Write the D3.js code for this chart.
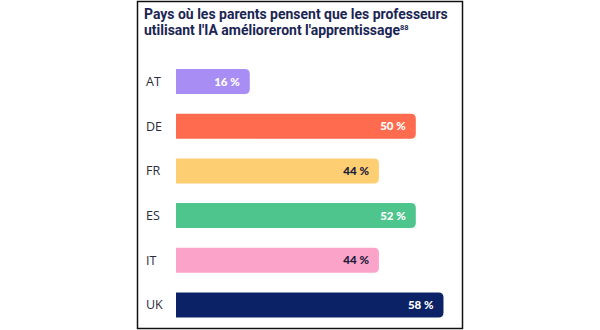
<!DOCTYPE html>
<html><head><meta charset="utf-8">
<script src="https://cdn.jsdelivr.net/npm/d3@7"></script>
<style>html,body{margin:0;padding:0;background:#fff;}svg{display:block;}</style>
</head><body>
<svg id="chart" width="600" height="330"></svg>
<script>
const countries = ["AT","DE","FR","ES","IT","UK"];
const barValues = [16, 52, 44, 52, 44, 58];
const valueLabels = ["16 %","50 %","44 %","52 %","44 %","58 %"];
const colors = ["#a88df5","#ff6b4e","#fdcf72","#4fc58e","#fba3c8","#0c2266"];
const labelColors = ["#ffffff","#ffffff","#1a1a3a","#ffffff","#1a1a3a","#ffffff"];
const titleLines = ["Pays où les parents pensent que les professeurs","utilisant l'IA amélioreront l'apprentissage"];
const footnote = "88";

const svg = d3.select("#chart");
svg.append("rect").attr("x",137.5).attr("y",1.5).attr("width",325).attr("height",327)
  .attr("fill","#fff").attr("stroke","#111").attr("stroke-width",1.5);

const x = d3.scaleLinear().domain([0,60]).range([176, 452.7]);
const y = d3.scalePoint().domain(countries).range([81.5, 305]);
const bh = 25, r = 5;

const title = svg.append("g").attr("font-family","Roboto, sans-serif").attr("font-weight",700)
  .attr("fill","#1b2553").attr("font-size",14);
const t1 = title.append("text").attr("x",144).attr("y",18.5).text(titleLines[0]);
const t2 = title.append("text").attr("x",144).attr("y",35);
t2.append("tspan").text(titleLines[1]);
t2.append("tspan").attr("font-size",7.5).attr("dy",-5.5).text(footnote);
const w1 = t1.node().getComputedTextLength();
if (w1 > 304) {
  const f = 304 / w1;
  title.attr("font-size", 14*f);
  t2.select("tspan:last-child").attr("font-size", 7.5*f);
}

const data = countries.map((c,i)=>({c, v:barValues[i], lab:valueLabels[i], col:colors[i], lc:labelColors[i]}));

function barPath(x0, x1, yc){
  const y0 = yc - bh/2, y1 = yc + bh/2;
  return `M${x0},${y0}H${x1-r}Q${x1},${y0} ${x1},${y0+r}V${y1-r}Q${x1},${y1} ${x1-r},${y1}H${x0}Z`;
}

const g = svg.append("g");
g.selectAll("path.bar").data(data).join("path").attr("class","bar")
  .attr("d", d=>barPath(x(0), x(d.v), y(d.c))).attr("fill", d=>d.col);

g.selectAll("text.cat").data(data).join("text").attr("class","cat")
  .attr("x",146).attr("y", d=>y(d.c)).attr("dy","0.35em")
  .attr("font-family","'Open Sans', sans-serif").attr("font-size",12.5).attr("fill","#2b2b3a")
  .text(d=>d.c);

g.selectAll("text.val").data(data).join("text").attr("class","val")
  .attr("x", d=>x(d.v)-10).attr("y", d=>y(d.c)).attr("dy","0.35em")
  .attr("text-anchor","end")
  .attr("font-family","Lato, sans-serif").attr("font-weight",900).attr("font-size",11.5)
  .attr("fill", d=>d.lc).text(d=>d.lab);
</script>
</body></html>
